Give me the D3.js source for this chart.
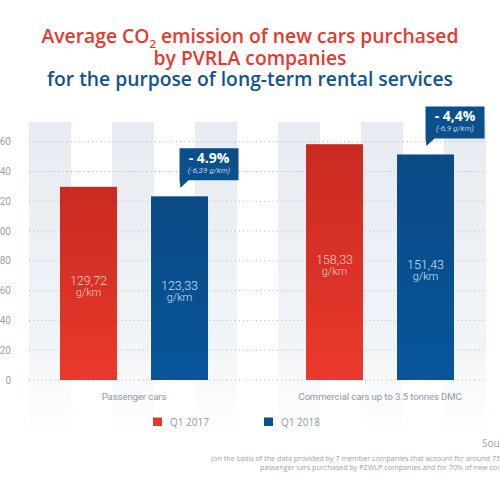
<!DOCTYPE html>
<html>
<head>
<meta charset="utf-8">
<script src="https://cdn.jsdelivr.net/npm/d3@7"></script>
<style>
  html, body { margin: 0; padding: 0; background: #ffffff; }
  svg { display: block; }
</style>
</head>
<body>
<div id="chart"></div>
<script>
// ---- data ----
const categories = ["Passenger cars", "Commercial cars up to 3.5 tonnes DMC"];
const seriesNames = ["Q1 2017", "Q1 2018"];
const values2017 = [129.72, 158.33];
const values2018 = [123.33, 151.43];
const changePct = ["- 4.9%", "- 4,4%"];
const changeAbs = ["(-6,39 g/km)", "(-6,9 g/km)"];
const yTicks = [0, 20, 40, 60, 80, 100, 120, 140, 160];
const titleLine1a = "Average CO";
const titleLine1sub = "2";
const titleLine1b = " emission of new cars purchased";
const titleLine2 = "by PVRLA companies";
const titleLine3 = "for the purpose of long-term rental services";
const sourceText = "Source: PZWLP";
const noteLine1 = "(on the basis of the data provided by 7 member companies that account for around 75% of new";
const noteLine2 = "passenger cars purchased by PZWLP companies and for 70% of new commercial cars)";

const W = 500, H = 500;
const gray = "#8e99a5";

const svg = d3.select("#chart").append("svg").attr("width", W).attr("height", H);
const defs = svg.append("defs");

const gRed = defs.append("linearGradient").attr("id", "gRed").attr("x1", 0).attr("y1", 0).attr("x2", 0).attr("y2", 1);
gRed.append("stop").attr("offset", 0).attr("stop-color", "#c92a21");
gRed.append("stop").attr("offset", 1).attr("stop-color", "#ea392c");
const gBlue = defs.append("linearGradient").attr("id", "gBlue").attr("x1", 0).attr("y1", 0).attr("x2", 0).attr("y2", 1);
gBlue.append("stop").attr("offset", 0).attr("stop-color", "#0b4a86");
gBlue.append("stop").attr("offset", 1).attr("stop-color", "#07559a");
const gStripe = defs.append("linearGradient").attr("id", "gStripe").attr("x1", 0).attr("y1", 0).attr("x2", 0).attr("y2", 1);
gStripe.append("stop").attr("offset", 0).attr("stop-color", "#e7ecf2");
gStripe.append("stop").attr("offset", 0.7).attr("stop-color", "#f1f4f7");
gStripe.append("stop").attr("offset", 1).attr("stop-color", "#ffffff");

// ---- title ----
const title = svg.append("g").attr("font-family", "'Open Sans', sans-serif").attr("font-weight", 600)
  .attr("text-anchor", "middle").attr("font-size", 19.3);
const t1 = title.append("text").attr("x", 250).attr("y", 42.5).attr("fill", "#e6392f");
t1.append("tspan").text(titleLine1a);
t1.append("tspan").attr("font-size", 11.5).attr("dy", 5).text(titleLine1sub);
t1.append("tspan").attr("dy", -5).text(titleLine1b);
title.append("text").attr("x", 250).attr("y", 64.5).attr("fill", "#e6392f").text(titleLine2);
title.append("text").attr("x", 250).attr("y", 85.5).attr("fill", "#14528f").text(titleLine3);

// ---- scales ----
const y = d3.scaleLinear().domain([0, 160]).range([380, 141.7]);
const x0 = d3.scaleBand().domain(categories).range([11, 503]).padding(0);
const x1 = d3.scaleBand().domain(seriesNames).range([49, 197]).paddingInner(0.374).paddingOuter(0);

// background stripes
svg.append("g").selectAll("rect").data(d3.range(6)).join("rect")
  .attr("x", i => 29 + i * 83).attr("y", 122).attr("width", 42).attr("height", 310)
  .attr("fill", "url(#gStripe)");

// gridlines
svg.append("g").selectAll("line").data(yTicks).join("line")
  .attr("x1", 29).attr("x2", 487).attr("y1", d => y(d)).attr("y2", d => y(d))
  .attr("stroke", "#aab3bd").attr("stroke-width", 1).attr("stroke-dasharray", "1,3.2");

// y labels
svg.append("g").selectAll("text").data(yTicks).join("text")
  .attr("x", 11).attr("y", d => y(d) + 3.5).attr("text-anchor", "end")
  .attr("font-family", "Roboto, sans-serif").attr("font-size", 10).attr("fill", "#98a2ad")
  .text(d => d);

// bars
const rows = categories.map((c, i) => ({ cat: c, i, vals: [values2017[i], values2018[i]] }));
const fmt = v => v.toFixed(2).replace(".", ",");
const groups = svg.append("g").selectAll("g").data(rows).join("g")
  .attr("transform", d => `translate(${x0(d.cat)},0)`);

groups.each(function (row) {
  const g = d3.select(this);
  const bars = seriesNames.map((s, k) => ({ s, k, v: row.vals[k] }));
  g.selectAll("rect").data(bars).join("rect")
    .attr("x", d => x1(d.s)).attr("y", d => y(d.v))
    .attr("width", x1.bandwidth()).attr("height", d => y(0) - y(d.v))
    .attr("fill", d => d.k === 0 ? "url(#gRed)" : "url(#gBlue)");
  const lab = g.selectAll("text.val").data(bars).join("text").attr("class", "val")
    .attr("text-anchor", "middle").attr("font-family", "Roboto, sans-serif").attr("font-weight", 300)
    .attr("fill", d => d.k === 0 ? "#fbd0c9" : "#d3e2f1");
  lab.append("tspan").attr("x", d => x1(d.s) + x1.bandwidth() / 2)
    .attr("y", d => (y(d.v) + y(0)) / 2 + 1.5).attr("font-size", 12.5).text(d => fmt(d.v));
  lab.append("tspan").attr("x", d => x1(d.s) + x1.bandwidth() / 2)
    .attr("y", d => (y(d.v) + y(0)) / 2 + 12.5).attr("font-size", 11).text("g/km");

  // callout over 2018 bar
  const bx = x1(seriesNames[1]) + 28.5, bw = 59, bh = 32;
  const by = y(row.vals[1]) - 48;
  const call = g.append("g");
  call.append("path")
    .attr("d", `M${bx},${by} h${bw} v${bh} H${bx + 9} L${bx + 1},${by + bh + 7.5} L${bx},${by + bh} Z`)
    .attr("fill", "#0b4f8c");
  call.append("text").attr("x", bx + bw / 2).attr("y", by + 15)
    .attr("text-anchor", "middle").attr("font-family", "'Open Sans', sans-serif").attr("font-weight", 700)
    .attr("font-size", 14).attr("fill", "#ffffff").text(changePct[row.i]);
  call.append("text").attr("x", bx + bw / 2).attr("y", by + 25)
    .attr("text-anchor", "middle").attr("font-family", "Roboto, sans-serif").attr("font-style", "italic")
    .attr("font-size", 8).attr("fill", "#b9cfe6").text(changeAbs[row.i]);
});

// category labels
svg.append("g").selectAll("text").data(categories).join("text")
  .attr("x", d => x0(d) + x0.bandwidth() / 2).attr("y", 399.5).attr("text-anchor", "middle")
  .attr("font-family", "Roboto, sans-serif").attr("font-size", 9.6).attr("letter-spacing", -0.1)
  .attr("fill", gray)
  .text(d => d);

// legend
const legX = [153, 264];
const leg = svg.append("g").selectAll("g").data(seriesNames).join("g")
  .attr("transform", (d, i) => `translate(${legX[i]},417.5)`);
leg.append("rect").attr("width", 9).attr("height", 8.5).attr("fill", (d, i) => i === 0 ? "#e8362b" : "#0b4f8c");
leg.append("text").attr("x", 17).attr("y", 8).attr("font-family", "'Open Sans', sans-serif")
  .attr("font-size", 10).attr("fill", gray).text(d => d);

// source + note
svg.append("text").attr("x", 482).attr("y", 446.5).attr("font-family", "'Open Sans', sans-serif")
  .attr("font-size", 10).attr("fill", "#9aa4ae").text(sourceText);
svg.append("text").attr("x", 211).attr("y", 460.5).attr("font-family", "'Open Sans', sans-serif")
  .attr("font-size", 7.2).attr("fill", "#9aa4ae").text(noteLine1);
svg.append("text").attr("x", 260).attr("y", 469.5).attr("font-family", "'Open Sans', sans-serif")
  .attr("font-size", 7.2).attr("fill", "#9aa4ae").text(noteLine2);
</script>
</body>
</html>
